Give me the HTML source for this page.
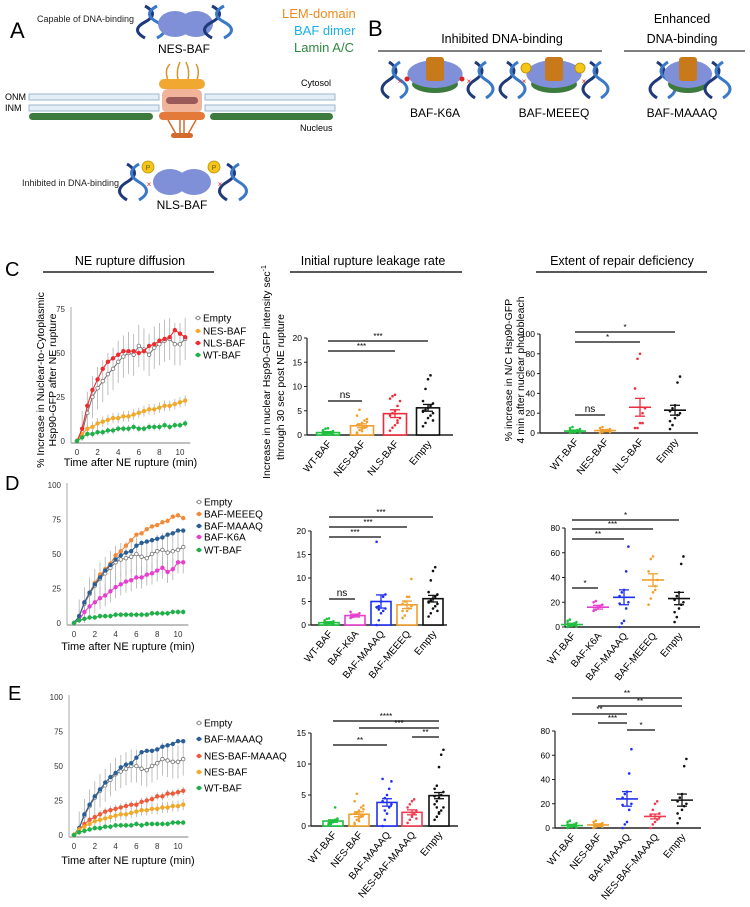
<!DOCTYPE html>
<html><head><meta charset="utf-8">
<style>
html,body{margin:0;padding:0;background:#fff;}
svg{display:block;font-family:"Liberation Sans",Arial,sans-serif;}
</style></head>
<body>
<svg id="fig" width="750" height="907" viewBox="0 0 750 907" xmlns="http://www.w3.org/2000/svg">
<rect width="750" height="907" fill="#fff"/>
<g>
  <text x="10" y="38" font-size="22">A</text>
  <text x="37" y="22" font-size="9" fill="#222">Capable of DNA-binding</text>
  <g>
    <path d="M145 6 Q160 14 145 22 Q130 30 145 38" stroke="#1f3a7a" stroke-width="3" fill="none"/>
    <path d="M157 6 Q142 14 157 22 Q172 30 157 38" stroke="#3a78c8" stroke-width="3" fill="none"/>
    <ellipse cx="175" cy="24" rx="17" ry="13" fill="#7f90d8"/>
    <ellipse cx="196" cy="24" rx="17" ry="13" fill="#7f90d8"/>
    <path d="M212 6 Q227 14 212 22 Q197 30 212 38" stroke="#1f3a7a" stroke-width="3" fill="none"/>
    <path d="M224 6 Q209 14 224 22 Q239 30 224 38" stroke="#3a78c8" stroke-width="3" fill="none"/>
  </g>
  <text x="184" y="53" font-size="12" text-anchor="middle">NES-BAF</text>
  <text x="282" y="18" font-size="13" fill="#f08a1c">LEM-domain</text>
  <text x="294" y="35" font-size="13" fill="#1ab0e6">BAF dimer</text>
  <text x="294" y="52" font-size="13" fill="#2d8a3e">Lamin A/C</text>
  <g>
    <rect x="29" y="94" width="130" height="6" fill="#e4eef6" stroke="#9bb7cf" stroke-width="1"/>
    <rect x="205" y="94" width="130" height="6" fill="#e4eef6" stroke="#9bb7cf" stroke-width="1"/>
    <rect x="29" y="105" width="130" height="6" fill="#e4eef6" stroke="#9bb7cf" stroke-width="1"/>
    <rect x="205" y="105" width="130" height="6" fill="#e4eef6" stroke="#9bb7cf" stroke-width="1"/>
    <rect x="29" y="113" width="124" height="7" rx="3.5" fill="#3d7a3d"/>
    <rect x="210" y="113" width="123" height="7" rx="3.5" fill="#3d7a3d"/>
  </g>
  <g>
    <path d="M168 80 Q164 70 170 64 M178 80 Q176 70 180 62 M188 80 Q190 70 186 62 M197 80 Q200 70 196 64" stroke="#d8962a" stroke-width="1.5" fill="none"/>
    <rect x="159" y="79" width="46" height="10" rx="5" fill="#f0a830"/>
    <rect x="162" y="89" width="40" height="24" rx="6" fill="#f1b39a"/>
    <rect x="166" y="97" width="32" height="7" rx="3.5" fill="#9b5a5a"/>
    <rect x="159" y="112" width="46" height="8" rx="4" fill="#e47a3a"/>
    <path d="M168 120 L176 134 M196 120 L188 134 M180 120 L180 134 M184 120 L184 134" stroke="#d46a30" stroke-width="1.5"/>
    <rect x="171" y="133" width="22" height="5" rx="2.5" fill="#d46a30"/>
  </g>
  <text x="5" y="100" font-size="9">ONM</text>
  <text x="5" y="111" font-size="9">INM</text>
  <text x="301" y="86" font-size="9">Cytosol</text>
  <text x="300" y="131" font-size="9">Nucleus</text>
  <text x="22" y="186" font-size="9" fill="#222">Inhibited in DNA-binding</text>
  <g>
    <path d="M127 164 Q142 173 127 182 Q112 191 127 200" stroke="#1f3a7a" stroke-width="3" fill="none"/>
    <path d="M139 164 Q124 173 139 182 Q154 191 139 200" stroke="#3a78c8" stroke-width="3" fill="none"/>
    <ellipse cx="170" cy="182" rx="17" ry="13" fill="#7f90d8"/>
    <ellipse cx="194" cy="182" rx="17" ry="13" fill="#7f90d8"/>
    <circle cx="148" cy="167" r="6" fill="#f5c518" stroke="#b89000" stroke-width="0.8"/>
    <circle cx="214" cy="167" r="6" fill="#f5c518" stroke="#b89000" stroke-width="0.8"/>
    <text x="148" y="170" font-size="7" text-anchor="middle" fill="#7a5a00">P</text>
    <text x="214" y="170" font-size="7" text-anchor="middle" fill="#7a5a00">P</text>
    <text x="149" y="187" font-size="8" fill="#e02020" text-anchor="middle">×</text>
    <text x="220" y="187" font-size="8" fill="#e02020" text-anchor="middle">×</text>
    <path d="M227 164 Q242 173 227 182 Q212 191 227 200" stroke="#1f3a7a" stroke-width="3" fill="none"/>
    <path d="M239 164 Q224 173 239 182 Q254 191 239 200" stroke="#3a78c8" stroke-width="3" fill="none"/>
  </g>
  <text x="182" y="209" font-size="12" text-anchor="middle">NLS-BAF</text>
</g>
<g>
  <text x="368" y="36" font-size="22">B</text>
  <text x="502" y="43" font-size="12.5" text-anchor="middle">Inhibited DNA-binding</text>
  <line x1="378" y1="51" x2="602" y2="51" stroke="#333" stroke-width="1.3"/>
  <text x="682" y="23" font-size="12.5" text-anchor="middle">Enhanced</text>
  <text x="682" y="43" font-size="12.5" text-anchor="middle">DNA-binding</text>
  <line x1="624" y1="51" x2="745" y2="51" stroke="#333" stroke-width="1.3"/>
  <g id="bicons"></g>
  <text x="435" y="117" font-size="12" text-anchor="middle">BAF-K6A</text>
  <text x="554" y="117" font-size="12" text-anchor="middle">BAF-MEEEQ</text>
  <text x="682" y="117" font-size="12" text-anchor="middle">BAF-MAAAQ</text>
</g>
<g>
  <text x="5" y="276" font-size="20">C</text>
  <text x="130" y="265" font-size="12.5" text-anchor="middle">NE rupture diffusion</text>
  <line x1="43" y1="272" x2="214" y2="272" stroke="#222" stroke-width="1.5"/>
  <text x="373" y="265" font-size="12.5" text-anchor="middle">Initial rupture leakage rate</text>
  <line x1="290" y1="272" x2="462" y2="272" stroke="#222" stroke-width="1.5"/>
  <text x="622" y="265" font-size="12.5" text-anchor="middle">Extent of repair deficiency</text>
  <line x1="536" y1="272" x2="707" y2="272" stroke="#222" stroke-width="1.5"/>
  <text x="5" y="490" font-size="20">D</text>
  <text x="8" y="700" font-size="20">E</text>
</g>
<g id="charts"></g>
</svg>
<script>
const times = [0,0.5,1,1.5,2,2.5,3,3.5,4,4.5,5,5.5,6,6.5,7,7.5,8,8.5,9,9.5,10,10.5];
const cSeriesNames = ["Empty","NES-BAF","NLS-BAF","WT-BAF"];
const cEmpty = [0,5,16,25,30,34,38,41,45,48,50,49,54,52,49,53,55,57,58,55,55,58];
const cNES = [0,4,7,8,10,11,12,13,13,14,14,15,16,17,18,18,19,20,20,21,22,23];
const cNLS = [0,7,20,29,35,41,45,47,49,51,51,51,50,51,54,55,57,58,59,63,61,59];
const cWT = [0,2,4,4,5,5,6,6,7,7,7,8,7,7,8,8,8,9,8,9,9,10];
const cErr = [12,3,0,2];
const cYTicks = [0,25,50,75];

const dSeriesNames = ["Empty","BAF-MEEEQ","BAF-MAAAQ","BAF-K6A","WT-BAF"];
const dEmpty = [0,5,14,21,27,32,36,40,44,46,47,48,50,48,47,50,52,53,51,52,53,55];
const dMEEEQ = [0,5,15,22,29,35,39,43,49,52,56,60,64,65,68,70,71,73,74,77,78,76];
const dMAAAQ = [0,5,15,22,28,33,38,42,46,49,51,52,56,58,59,60,61,62,64,65,67,67];
const dK6A = [0,2,8,12,15,18,20,23,26,28,30,31,33,33,35,36,38,40,37,39,44,44];
const dWT = [0,2,3,4,4,5,5,5,6,6,6,6,6,6,6,7,7,7,7,8,8,8];
const dErr = [12,0,0,8,2];
const deYTicks = [0,25,50,75,100];

const eSeriesNames = ["Empty","BAF-MAAAQ","NES-BAF-MAAAQ","NES-BAF","WT-BAF"];
const eEmpty = [0,5,14,21,27,32,36,40,44,46,48,50,50,48,47,50,52,55,54,53,53,55];
const eMAAAQ = [0,5,15,22,28,33,38,42,45,49,51,52,56,60,61,61,62,64,65,66,68,68];
const eNESMAAAQ = [0,4,8,11,13,15,17,18,19,20,21,22,22,24,25,26,28,28,30,30,31,32];
const eNES = [0,4,6,8,10,11,12,13,14,15,15,16,17,18,18,19,19,20,20,21,21,22];
const eWT = [0,2,3,4,5,5,6,6,7,7,7,7,8,7,8,8,8,8,8,9,9,9];
const eErr = [12,0,3,4,2];
const xTicks = [0,2,4,6,8,10];

const cBarCats = ["WT-BAF","NES-BAF","NLS-BAF","Empty"];
const cBarMeans = [0.5,1.9,4.4,5.6];
const cBarSems = [0.2,0.4,0.8,0.7];
const cBarDots = [
 [0.2,0.3,0.5,0.6,0.8,1.0,1.3,1.4,0.4,0.1,0.7,0.2],
 [0.5,1,1.2,1.5,1.8,2,2.2,2.5,3,3.3,4,5.2,0.8,1.6,2.7,0.3],
 [0.9,1.5,2,3,3.5,4,4.5,5,6,7,7.5,8,8.3,2.5],
 [1.8,2.5,3.5,4,4.5,5,5.2,5.6,6,6.5,7,9.5,11.5,12.3,3,4.8]];
const cBarTicks = [0,5,10,15,20];

const cScCats = ["WT-BAF","NES-BAF","NLS-BAF","Empty"];
const cScMeans = [2,2.5,26,23];
const cScSems = [1,1,9,5];
const cScDots = [
 [0,1,2,3,4,5,6,1,2,0.5,3],
 [0,1,2,3,4,5,6,2,3,1],
 [5,5,10,20,25,45,75,80,10],
 [4,8,15,18,20,22,25,28,51,57,12]];
const cScTicks = [0,20,40,60,80,100];

const dBarCats = ["WT-BAF","BAF-K6A","BAF-MAAAQ","BAF-MEEEQ","Empty"];
const dBarMeans = [0.5,2.0,5.0,4.3,5.6];
const dBarSems = [0.2,0.3,1.4,0.8,0.7];
const dBarDots = [
 [0.2,0.3,0.5,0.6,0.8,1.0,1.3,1.4,0.4,0.1,0.7,0.2],
 [1.5,1.8,2,2.2,2.5,2.8,1.7],
 [0,1,2.5,3,3.5,3.8,4,5,6,6.5,17.7,3.3],
 [1.5,2,3,3.5,4,4.5,5,6,6,9.8,3],
 [1.8,2.5,3.5,4,4.5,5,5.2,5.6,6,6.5,7,9.5,11.5,12.3,3,4.8]];
const dBarTicks = [0,5,10,15,20];

const dScCats = ["WT-BAF","BAF-K6A","BAF-MAAAQ","BAF-MEEEQ","Empty"];
const dScMeans = [2,16,24,38,23];
const dScSems = [1,1.5,6,5,5];
const dScDots = [
 [0,1,2,3,4,5,6,1,2,0.5,3],
 [13,14,16,17,18,20,21],
 [0,3,5,15,20,25,28,30,45,65,19],
 [18,23,28,33,38,45,55,57,30],
 [4,8,15,18,20,22,25,28,51,57,12]];
const dScTicks = [0,20,40,60,80];

const eBarCats = ["WT-BAF","NES-BAF","BAF-MAAAQ","NES-BAF-MAAAQ","Empty"];
const eBarMeans = [0.8,1.9,3.8,2.2,4.9];
const eBarSems = [0.2,0.4,0.6,0.4,0.5];
const eBarDots = [
 [0.2,0.5,0.8,1,1.2,0.4,0.3,0.6,3,1.1],
 [0.5,1,1.2,1.5,1.8,2,2.2,2.5,3,3.3,4,5.2,0.8,1.6,2.7,0.3],
 [0,1,2,3,3.5,4,4.5,5,6,7.2,7.6,2.5],
 [0.5,1,1.5,2,2.5,3,3.5,4,4.3,1.2],
 [1,1.5,2,2.5,3,3.5,4,4.5,5,5.5,6,6.5,9.5,11.5,12.3,4.8,3,2.2]];
const eBarTicks = [0,5,10,15];

const eScCats = ["WT-BAF","NES-BAF","BAF-MAAAQ","NES-BAF-MAAAQ","Empty"];
const eScMeans = [2,2.5,24,9.5,23];
const eScSems = [1,1,6,2,5];
const eScDots = [
 [0,1,2,3,4,5,6,1,2,0.5,3],
 [0,1,2,3,4,5,6,2,3,1],
 [0,3,5,15,20,25,28,30,45,65,19],
 [0,3,5,7,9,11,15,20,22,12],
 [4,8,15,18,20,22,25,28,51,57,12]];
const eScTicks = [0,20,40,60,80];

const NS = "http://www.w3.org/2000/svg";
function mk(tag, attrs, parent){
  const e = document.createElementNS(NS, tag);
  for (const k in attrs) e.setAttribute(k, attrs[k]);
  if (parent) parent.appendChild(e);
  return e;
}
const root = document.getElementById('charts');

(function(){
  const g = document.getElementById('bicons');
  function dna(x, y){
    mk('path',{d:`M${x} ${y} Q${x+14} ${y+9} ${x} ${y+18} Q${x-14} ${y+27} ${x} ${y+36}`,stroke:'#1f3a7a','stroke-width':3,fill:'none'},g);
    mk('path',{d:`M${x+11} ${y} Q${x-3} ${y+9} ${x+11} ${y+18} Q${x+25} ${y+27} ${x+11} ${y+36}`,stroke:'#3a78c8','stroke-width':3,fill:'none'},g);
  }
  function baf(cx, w){
    mk('ellipse',{cx:cx,cy:84,rx:w*0.5,ry:9,fill:'#3d7a3d'},g);
    mk('ellipse',{cx:cx,cy:74,rx:w*0.6,ry:14,fill:'#7f90d8'},g);
    mk('rect',{x:cx-9,y:57,width:18,height:24,rx:3,fill:'#c8791a'},g);
  }
  dna(389,62); baf(435,46); dna(475,62);
  mk('circle',{cx:407,cy:79,r:2.5,fill:'#e02020'},g); mk('circle',{cx:462,cy:79,r:2.5,fill:'#e02020'},g);
  dna(507,62); baf(554,46); dna(590,62);
  mk('circle',{cx:526,cy:68,r:5,fill:'#f5c518',stroke:'#b89000','stroke-width':0.8},g);
  mk('circle',{cx:580,cy:68,r:5,fill:'#f5c518',stroke:'#b89000','stroke-width':0.8},g);
  dna(657,62); baf(688,40); dna(712,62);
  [[400,84],[469,84],[524,84],[584,84]].forEach(p=>{ const t=mk('text',{x:p[0],y:p[1],'font-size':8,fill:'#e02020','text-anchor':'middle'},g); t.textContent='×'; });
})();

function lineChart(o){
  const g = mk('g',{},root);
  
  
  const X = t => o.x0 + (t - 0) / 10 * (o.x10 - o.x0);
  const Y = v => o.y0 - v / o.yMax * (o.y0 - o.yTop);
  mk('line',{x1:o.axisX,y1:Y(o.yMax)-2,x2:o.axisX,y2:o.y0+2,stroke:'#aaa','stroke-width':1},g);
  mk('line',{x1:o.axisX,y1:o.y0+2,x2:X(11),y2:o.y0+2,stroke:'#aaa','stroke-width':1.5},g);
  o.yTicks.forEach(v=>{
    const t = mk('text',{x:o.axisX-6,y:Y(v)+3,'font-size':8,'text-anchor':'end',fill:'#333'},g);
    
    
    t.textContent = v;
  });
  xTicks.forEach(v=>{
    const t = mk('text',{x:X(v),y:o.y0+14,'font-size':8,'text-anchor':'middle',fill:'#333'},g);
    
    
    t.textContent = v;
  });
  const xl = mk('text',{x:(X(0)+X(10))/2+2,y:o.xLabelY,'font-size':11,'text-anchor':'middle'},g);
  
  
  xl.textContent = 'Time after NE rupture (min)';
  o.series.forEach((s,si)=>{
    const err = o.errs[si];
    if (!err) return;
    s.forEach((v,i)=>{
      if (i===0) return;
      const eb = mk('line',{x1:X(times[i]),x2:X(times[i]),y1:Y(v+err),y2:Y(Math.max(0,v-err)),stroke:'#b0b0b0','stroke-width':0.8},g);
      
      
    });
  });
  o.series.forEach((s,si)=>{
    const col = o.colors[si];
    const pts = s.map((v,i)=>X(times[i]).toFixed(1)+','+Y(v).toFixed(1)).join(' ');
    const pl = mk('polyline',{points:pts,fill:'none',stroke:col,'stroke-width':1.1},g);
    
    
    s.forEach((v,i)=>{
      const open = o.names[si]==='Empty';
      const c = mk('circle',{cx:X(times[i]),cy:Y(v),r:open?1.8:2.2,fill:open?'#fff':col,stroke:col,'stroke-width':open?0.8:0},g);
      
      
    });
    const ly = o.legendY[si];
    const lg = mk('g',{},g);
    
    
    mk('line',{x1:o.legX-3,x2:o.legX+3,y1:ly,y2:ly,stroke:col,'stroke-width':1},lg);
    mk('circle',{cx:o.legX,cy:ly,r:1.8,fill:o.names[si]==='Empty'?'#fff':col,stroke:col,'stroke-width':0.8},lg);
    const t = mk('text',{x:o.legX+5,y:ly+3.5,'font-size':10},lg);
    t.textContent = o.names[si];
  });
}

lineChart({name:'c-line-chart',x0:77,x10:180,axisX:71,y0:441,yTop:309,yMax:75,yTicks:cYTicks,xLabelY:466,
  series:[cEmpty,cNES,cNLS,cWT],names:cSeriesNames,colors:['#777','#f0a92a','#ee2b2f','#20b04a'],errs:cErr,
  legX:198,legendY:[318,331,343,355]});
lineChart({name:'d-line-chart',x0:74,x10:178,axisX:67,y0:623,yTop:485,yMax:100,yTicks:deYTicks,xLabelY:650,
  series:[dEmpty,dMEEEQ,dMAAAQ,dK6A,dWT],names:dSeriesNames,colors:['#777','#f28a3a','#2a5f95','#e83fcf','#20b04a'],errs:dErr,
  legX:199,legendY:[502,514,526,537,550]});
lineChart({name:'e-line-chart',x0:74,x10:178,axisX:69,y0:835,yTop:697,yMax:100,yTicks:deYTicks,xLabelY:864,
  series:[eEmpty,eMAAAQ,eNESMAAAQ,eNES,eWT],names:eSeriesNames,colors:['#777','#2a5f95','#ee5a3a','#f0a92a','#20b04a'],errs:eErr,
  legX:199,legendY:[723,739,756,772,788]});

function catChart(o){
  const g = mk('g',{},root);
  
  
  const ymax = o.ticks[o.ticks.length-1];
  const Y = v => o.y0 - v / ymax * (o.y0 - o.yTop);
  mk('line',{x1:o.axisX,y1:o.yTop,x2:o.axisX,y2:o.y0,stroke:'#222','stroke-width':1.2},g);
  mk('line',{x1:o.axisX,y1:o.y0,x2:o.xEnd,y2:o.y0,stroke:'#222','stroke-width':1.5},g);
  o.ticks.forEach(v=>{
    mk('line',{x1:o.axisX-3,x2:o.axisX,y1:Y(v),y2:Y(v),stroke:'#222','stroke-width':1},g);
    const t = mk('text',{x:o.axisX-5,y:Y(v)+3,'font-size':8.5,'text-anchor':'end'},g);
    
    
    t.textContent = v;
  });
  o.cats.forEach((c,i)=>{
    const cx = o.cx[i], col = o.colors[i];
    if (o.type==='bar'){
      const b = mk('rect',{x:cx-o.bw/2,y:Y(o.means[i]),width:o.bw,height:o.y0-Y(o.means[i]),fill:'#fff',stroke:col,'stroke-width':1.6},g);
      
      
    }
    o.dots[i].forEach((v,k)=>{
      const d = mk('circle',{cx:cx+((k%5)-2)*o.jit,cy:Y(v),r:1.3,fill:col},g);
      
      
    });
    const hi = Y(o.means[i]+o.sems[i]), lo = Y(Math.max(0,o.means[i]-o.sems[i]));
    mk('line',{x1:cx,x2:cx,y1:hi,y2:lo,stroke:col,'stroke-width':1.3},g);
    mk('line',{x1:cx-5,x2:cx+5,y1:hi,y2:hi,stroke:col,'stroke-width':1.3},g);
    mk('line',{x1:cx-5,x2:cx+5,y1:lo,y2:lo,stroke:col,'stroke-width':1.3},g);
    if (o.type==='scatter'){
      const m = mk('line',{x1:cx-11,x2:cx+11,y1:Y(o.means[i]),y2:Y(o.means[i]),stroke:col,'stroke-width':1.6},g);
      
      
    }
    const lx = cx+4, ly = o.y0+9;
    const t = mk('text',{x:lx,y:ly,'font-size':10,'text-anchor':'end',transform:`rotate(-50 ${lx} ${ly})`},g);
    
    
    t.textContent = c;
  });
  o.sig.forEach(s=>{
    const sl = mk('line',{x1:o.cx[s[0]],x2:o.cx[s[1]],y1:s[2],y2:s[2],stroke:'#333','stroke-width':1.5},g);
    
    
    const st = mk('text',{x:(o.cx[s[0]]+o.cx[s[1]])/2,y:s[3]==='ns'?s[2]-3:s[2]-2,'font-size':s[3]==='ns'?10:8,'text-anchor':'middle'},g);
    
    
    st.textContent = s[3];
  });
  (o.titles||[]).forEach(tt=>{
    const t = mk('text',{x:tt[0],y:tt[1],'font-size':10.5,'text-anchor':'middle',transform:`rotate(-90 ${tt[0]} ${tt[1]})`},g);
    
    
    t.innerHTML = tt[2];
  });
}

catChart({name:'c-leakage-bar-chart',type:'bar',axisX:307,y0:435,yTop:338,xEnd:453,ticks:cBarTicks,cats:cBarCats,
  cx:[328,362,395,428],bw:23,jit:2.5,means:cBarMeans,sems:cBarSems,dots:cBarDots,
  colors:['#20c040','#f0a030','#ee2b3b','#111'],
  sig:[[0,3,341,'***'],[0,2,351,'***'],[0,1,401,'ns']],
  titles:[[270,372,'Increase in nuclear Hsp90-GFP intensity sec<tspan font-size="7" dy="-4">-1</tspan>'],[284,387,'through 30 sec post NE rupture']]});
catChart({name:'c-repair-scatter',type:'scatter',axisX:540,y0:433,yTop:334,xEnd:698,ticks:cScTicks,cats:cScCats,
  cx:[575,605,640,675],jit:2.5,means:cScMeans,sems:cScSems,dots:cScDots,
  colors:['#20c040','#f0a030','#ee2b3b','#111'],
  sig:[[0,3,332,'*'],[0,2,342,'*'],[0,1,415,'ns']],
  titles:[[512,370,'% increase in N/C  Hsp90-GFP'],[524,370,'4 min after nuclear photobleach']]});
catChart({name:'d-leakage-bar-chart',type:'bar',axisX:311,y0:625,yTop:531,xEnd:447,ticks:dBarTicks,cats:dBarCats,
  cx:[329,355,381,407,433],bw:20,jit:2.2,means:dBarMeans,sems:dBarSems,dots:dBarDots,
  colors:['#20c040','#e83fcf','#2030f0','#f0a030','#111'],
  sig:[[0,4,517,'***'],[0,3,527,'***'],[0,2,537,'***'],[0,1,599,'ns']]});
catChart({name:'d-repair-scatter',type:'scatter',axisX:565,y0:627,yTop:528,xEnd:700,ticks:dScTicks,cats:dScCats,
  cx:[572,598,624,653,679],jit:2.2,means:dScMeans,sems:dScSems,dots:dScDots,
  colors:['#20c040','#e83fcf','#2030f0','#f0a030','#111'],
  sig:[[0,4,520,'*'],[0,3,529,'***'],[0,2,539,'**'],[0,1,588,'*']]});
catChart({name:'e-leakage-bar-chart',type:'bar',axisX:311,y0:826,yTop:733,xEnd:458,ticks:eBarTicks,cats:eBarCats,
  cx:[333,359,387,412,439],bw:20,jit:2.2,means:eBarMeans,sems:eBarSems,dots:eBarDots,
  colors:['#20c040','#f0a030','#2030f0','#ee3b50','#111'],
  sig:[[0,4,721,'****'],[1,4,728,'***'],[3,4,737,'**'],[0,2,745,'**']]});
catChart({name:'e-repair-scatter',type:'scatter',axisX:555,y0:828,yTop:731,xEnd:701,ticks:eScTicks,cats:eScCats,
  cx:[572,598,627,655,682],jit:2.2,means:eScMeans,sems:eScSems,dots:eScDots,
  colors:['#20c040','#f0a030','#2030f0','#ee3b50','#111'],
  sig:[[0,4,698,'**'],[1,4,706,'**'],[0,2,714,'**'],[1,2,723,'***'],[2,3,730,'*']]});
</script>
<script>
(function(){
  const svg = document.getElementById('charts');
  const NS = "http://www.w3.org/2000/svg";
  [[44,'% Increase in Nuclear-to-Cytoplasmic'],[56,'Hsp90-GFP after NE rupture']].forEach(a=>{
    const t = document.createElementNS(NS,'text');
    t.setAttribute('x',a[0]); t.setAttribute('y',380);
    t.setAttribute('font-size','10.5'); t.setAttribute('text-anchor','middle');
    t.setAttribute('transform',`rotate(-90 ${a[0]} 380)`);
    
    
    t.textContent = a[1];
    svg.appendChild(t);
  });
})();
</script>
</body></html>
